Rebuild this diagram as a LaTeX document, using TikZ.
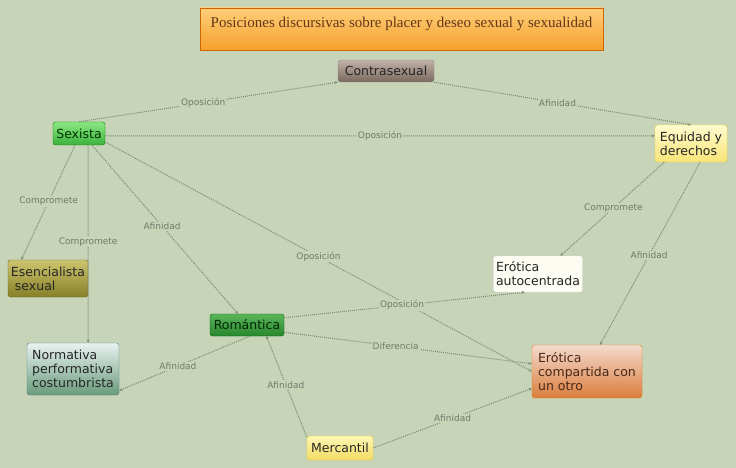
\documentclass[tikz,border=0pt]{standalone}
\usepackage{fontspec}
\setmainfont{DejaVu Sans}
\newfontfamily\titlefont{Liberation Serif}
\usetikzlibrary{arrows.meta}
\definecolor{bg}{RGB}{199,212,184}
\definecolor{linea}{RGB}{122,140,114}
\definecolor{etiq}{RGB}{112,122,106}
\begin{document}
\begin{tikzpicture}[x=1pt,y=-1pt,
	concepto/.style={draw=#1, rounded corners=2.5pt, font=\fontsize{12.5}{14}\selectfont, inner xsep=2.5pt, inner ysep=3pt, align=left, text=black!85},
	rel/.style={linea, densely dotted, line width=1pt, -{Stealth[length=3pt,width=3pt]}},
	etiqueta/.style={fill=bg, inner sep=1pt, text=etiq, font=\fontsize{9}{10}\selectfont}]
	\fill[bg] (0,0) rectangle (736,468);
	\node[draw=orange!80!black, top color={rgb,255:red,255;green,206;blue,120}, bottom color={rgb,255:red,245;green,160;blue,45}, minimum width=403pt, minimum height=42pt, inner ysep=4pt, text height=16pt, text depth=18pt, font=\titlefont\fontsize{15}{16}\selectfont, text={rgb,255:red,100;green,55;blue,25}] (titulo) at (401.5,29) {Posiciones discursivas sobre placer y deseo sexual y sexualidad};
	\node[concepto=black!45, top color={rgb,255:red,192;green,178;blue,168}, bottom color={rgb,255:red,122;green,104;blue,94}, minimum width=96pt, minimum height=22pt, align=center] (contra) at (386,71) {Contrasexual};
	\node[concepto=green!50!black, top color={rgb,255:red,140;green,232;blue,130}, bottom color={rgb,255:red,58;green,178;blue,60}, minimum width=52pt, minimum height=23pt, align=center, text=green!20!black] (sex) at (79,133.5) {Sexista};
	\node[concepto=yellow!60!brown, top color={rgb,255:red,255;green,252;blue,205}, bottom color={rgb,255:red,248;green,228;blue,120}, minimum width=72pt, minimum height=37pt] (equidad) at (691,143.5) {Equidad y\\derechos};
	\node[concepto=olive!70!black, top color={rgb,255:red,205;green,196;blue,110}, bottom color={rgb,255:red,135;green,128;blue,40}, minimum width=80pt, minimum height=37pt] (esen) at (48,278.5) {Esencialista\\\ sexual};
	\node[concepto=white!80!gray, fill={rgb,255:red,252;green,252;blue,242}, minimum width=88pt, minimum height=36pt] (auto) at (538,274) {Erótica\\autocentrada};
	\node[concepto=green!40!black, top color={rgb,255:red,90;green,180;blue,90}, bottom color={rgb,255:red,40;green,135;blue,45}, minimum width=74pt, minimum height=22pt, align=center, text=green!15!black] (rom) at (247,325) {Romántica};
	\node[concepto=teal!40!gray, top color={rgb,255:red,232;green,242;blue,240}, bottom color={rgb,255:red,105;green,155;blue,125}, minimum width=92pt, minimum height=52pt] (norma) at (73,369) {Normativa\\performativa\\costumbrista};
	\node[concepto=orange!60!brown, top color={rgb,255:red,245;green,218;blue,205}, bottom color={rgb,255:red,218;green,125;blue,60}, minimum width=110pt, minimum height=53pt, text={rgb,255:red,70;green,40;blue,25}] (compar) at (587,371.5) {Erótica\\compartida con\\un otro};
	\node[concepto=yellow!60!brown, top color={rgb,255:red,255;green,248;blue,180}, bottom color={rgb,255:red,242;green,218;blue,100}, minimum width=66pt, minimum height=24pt, align=center] (merca) at (340,448) {Mercantil};
	% relaciones
	\draw[rel] (sex.north) -- node[etiqueta,pos=.48] {Oposición} (contra.south west);
	\draw[rel] (contra.south east) -- node[etiqueta,pos=.48] {Afinidad} (equidad.north);
	\draw[rel] (sex.355) -- node[etiqueta,pos=.5] {Oposición} (equidad.168);
	\draw[rel] (sex.251) -- node[etiqueta,pos=.49] {Compromete} (esen.145);
	\draw[rel] (sex.308) -- node[etiqueta,pos=.49] {Compromete} (norma.60);
	\draw[rel] (sex.318) -- node[etiqueta,pos=.48] {Afinidad} (rom.129);
	\draw[rel] (sex.342) -- node[etiqueta,pos=.5] {Oposición} (compar.west);
	\draw[rel] (equidad.215) -- node[etiqueta,pos=.49] {Compromete} (auto.39);
	\draw[rel] (equidad.296) -- node[etiqueta,pos=.51] {Afinidad} (compar.64);
	\draw[rel] (rom.11) -- node[etiqueta,pos=.49] {Oposición} (auto.234);
	\draw[rel] (rom.349) -- node[etiqueta,pos=.45] {Diferencia} (compar.172);
	\draw[rel] (rom.284) -- node[etiqueta,pos=.55] {Afinidad} (norma.335);
	\draw[rel] (merca.162) -- node[etiqueta,pos=.52] {Afinidad} (rom.330);
	\draw[rel] (merca.east) -- node[etiqueta,pos=.5] {Afinidad} (compar.197);
\end{tikzpicture}
\end{document}
